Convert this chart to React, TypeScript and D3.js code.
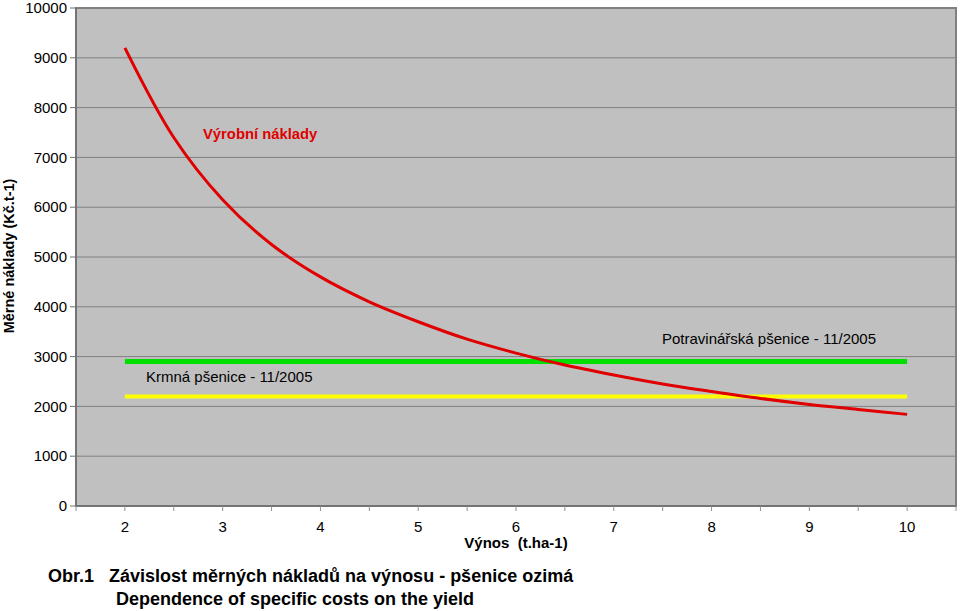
import React from "react";
import * as d3 from "d3";

const yields = [2, 2.5, 3, 3.5, 4, 4.5, 5, 5.5, 6, 6.5, 7, 7.5, 8, 8.5, 9, 9.5, 10];
const costs = [9200, 7400, 6150, 5250, 4600, 4100, 3700, 3350, 3070, 2830, 2630, 2450, 2300, 2160, 2040, 1940, 1840];
const foodWheat = 2900;
const feedWheat = 2200;
const xTickLabels = [2, 3, 4, 5, 6, 7, 8, 9, 10];
const yTickLabels = [0, 1000, 2000, 3000, 4000, 5000, 6000, 7000, 8000, 9000, 10000];

const W = 960, H = 611;
const L = 76, R = 956, T = 8, B = 506;
const FONT = "'Liberation Sans', Arial, sans-serif";

export default function App() {
  const x = d3.scaleLinear().domain([1.5, 10.5]).range([L, R]);
  const y = d3.scaleLinear().domain([0, 10000]).range([B, T]);
  const line = d3.line<number>()
    .x((_, i) => x(yields[i]))
    .y((d) => y(d))
    .curve(d3.curveCatmullRom.alpha(0.5));
  const xMinorTicks = d3.range(1.5, 10.51, 0.5);
  const x0 = yields[0], x1 = yields[yields.length - 1];
  return (
    <svg width={W} height={H} style={{ position: "absolute", left: 0, top: 0, background: "#fff" }} fontFamily={FONT}>
      <rect x={L} y={T} width={R - L} height={B - T} fill="#c0c0c0" />
      {yTickLabels.slice(1, -1).map((v) => (
        <line key={v} x1={L} x2={R} y1={y(v)} y2={y(v)} stroke="#808080" strokeWidth={1} />
      ))}
      <rect x={L} y={T} width={R - L} height={B - T} fill="none" stroke="#808080" strokeWidth={2} />
      <line x1={L} x2={L} y1={T} y2={B} stroke="#707070" strokeWidth={1.5} />
      <line x1={L} x2={R} y1={B} y2={B} stroke="#707070" strokeWidth={1.5} />
      {yTickLabels.map((v) => (
        <g key={v}>
          <line x1={L - 6} x2={L} y1={y(v)} y2={y(v)} stroke="#707070" />
          <text x={67} y={y(v)} dy="0.35em" textAnchor="end" fontSize={15} fill="#000">{v}</text>
        </g>
      ))}
      {xMinorTicks.map((v) => (
        <line key={v} x1={x(v)} x2={x(v)} y1={B} y2={B + 5} stroke="#909090" />
      ))}
      {xTickLabels.map((v) => (
        <text key={v} x={x(v)} y={532} textAnchor="middle" fontSize={15} fill="#000">{v}</text>
      ))}
      <line x1={x(x0)} x2={x(x1)} y1={y(foodWheat)} y2={y(foodWheat)} stroke="#00e000" strokeWidth={5} />
      <line x1={x(x0)} x2={x(x1)} y1={y(feedWheat)} y2={y(feedWheat)} stroke="#ffff00" strokeWidth={4} />
      <path d={line(costs) || ""} fill="none" stroke="#e00000" strokeWidth={3} />
      <text x={203} y={139} fontSize={14.8} fill="#e00000" fontWeight="bold">Výrobní náklady</text>
      <text x={662} y={344} fontSize={15} fill="#000">Potravinářská pšenice - 11/2005</text>
      <text x={146} y={382} fontSize={15} fill="#000">Krmná pšenice - 11/2005</text>
      <text transform="translate(14,256) rotate(-90)" textAnchor="middle" fontSize={14.5} fontWeight="bold" fill="#000">Měrné náklady (Kč.t-1)</text>
      <text x={516} y={548} textAnchor="middle" fontSize={15} fontWeight="bold" fill="#000" xmlSpace="preserve">Výnos  (t.ha-1)</text>
      <text x={48} y={582} fontSize={18} fontWeight="bold" fill="#000" xmlSpace="preserve">Obr.1   Závislost měrných nákladů na výnosu - pšenice ozimá</text>
      <text x={116} y={605} fontSize={18} fontWeight="bold" fill="#000">Dependence of specific costs on the yield</text>
    </svg>
  );
}
